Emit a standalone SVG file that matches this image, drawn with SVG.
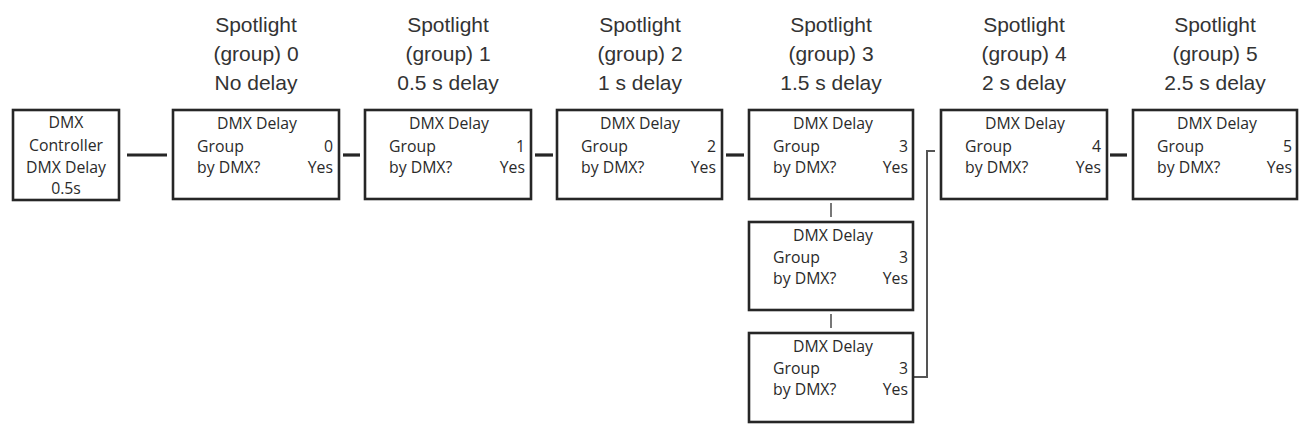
<svg xmlns="http://www.w3.org/2000/svg" width="1304" height="426" viewBox="0 0 1304 426">
<style>
.box{fill:#fff;stroke:#262626;stroke-width:2.6}
.t{font-family:"Open Sans","Noto Sans",sans-serif;font-size:15.8px;fill:#2a2a2a}
.c{text-anchor:middle}
.r{text-anchor:end}
.title{font-family:"Liberation Sans",Arial,sans-serif;font-size:21px;fill:#333;text-anchor:middle}
.thick{stroke:#262626;stroke-width:3.2;fill:none}
.thin{stroke:#555;stroke-width:1.6;fill:none}
</style>
<rect width="1304" height="426" fill="#fff"/>
<g id="titles">
<text class="title" x="256" y="32">Spotlight</text><text class="title" x="256" y="61">(group) 0</text><text class="title" x="256" y="90">No delay</text>
<text class="title" x="448" y="32">Spotlight</text><text class="title" x="448" y="61">(group) 1</text><text class="title" x="448" y="90">0.5 s delay</text>
<text class="title" x="640" y="32">Spotlight</text><text class="title" x="640" y="61">(group) 2</text><text class="title" x="640" y="90">1 s delay</text>
<text class="title" x="831" y="32">Spotlight</text><text class="title" x="831" y="61">(group) 3</text><text class="title" x="831" y="90">1.5 s delay</text>
<text class="title" x="1024" y="32">Spotlight</text><text class="title" x="1024" y="61">(group) 4</text><text class="title" x="1024" y="90">2 s delay</text>
<text class="title" x="1215" y="32">Spotlight</text><text class="title" x="1215" y="61">(group) 5</text><text class="title" x="1215" y="90">2.5 s delay</text>
</g>
<g id="connectors">
<line class="thick" x1="127" y1="155" x2="167" y2="155"/>
<line class="thick" x1="343" y1="155" x2="360" y2="155"/>
<line class="thick" x1="535" y1="155" x2="553" y2="155"/>
<line class="thick" x1="726" y1="155" x2="744" y2="155"/>
<line class="thick" x1="1110" y1="155" x2="1127" y2="155"/>
<line class="thin" x1="831" y1="203" x2="831" y2="217"/>
<line class="thin" x1="831" y1="314" x2="831" y2="328"/>
<polyline class="thin" points="914,377 927,377 927,151 935,151" style="stroke-width:2"/>
</g>
<g id="controller">
<rect class="box" x="13" y="110" width="106" height="90"/>
<text class="t c" x="66" y="128">DMX</text>
<text class="t c" x="66" y="151">Controller</text>
<text class="t c" x="66" y="173">DMX Delay</text>
<text class="t c" x="66" y="194">0.5s</text>
</g>
<g id="group0">
<rect class="box" x="173" y="110" width="166" height="89"/>
<text class="t c" x="257" y="129">DMX Delay</text>
<text class="t" x="197" y="152">Group</text><text class="t r" x="333" y="152">0</text>
<text class="t" x="197" y="173">by DMX?</text><text class="t r" x="333" y="173">Yes</text>
</g>
<g id="group1">
<rect class="box" x="365" y="110" width="166" height="89"/>
<text class="t c" x="449" y="129">DMX Delay</text>
<text class="t" x="389" y="152">Group</text><text class="t r" x="525" y="152">1</text>
<text class="t" x="389" y="173">by DMX?</text><text class="t r" x="525" y="173">Yes</text>
</g>
<g id="group2">
<rect class="box" x="557" y="110" width="165" height="89"/>
<text class="t c" x="640" y="129">DMX Delay</text>
<text class="t" x="581" y="152">Group</text><text class="t r" x="716" y="152">2</text>
<text class="t" x="581" y="173">by DMX?</text><text class="t r" x="716" y="173">Yes</text>
</g>
<g id="group3a">
<rect class="box" x="749" y="110" width="164" height="89"/>
<text class="t c" x="833" y="129">DMX Delay</text>
<text class="t" x="773" y="152">Group</text><text class="t r" x="908" y="152">3</text>
<text class="t" x="773" y="173">by DMX?</text><text class="t r" x="908" y="173">Yes</text>
</g>
<g id="group3b">
<rect class="box" x="749" y="222" width="164" height="88"/>
<text class="t c" x="833" y="241">DMX Delay</text>
<text class="t" x="773" y="263">Group</text><text class="t r" x="908" y="263">3</text>
<text class="t" x="773" y="284">by DMX?</text><text class="t r" x="908" y="284">Yes</text>
</g>
<g id="group3c">
<rect class="box" x="749" y="333" width="164" height="89"/>
<text class="t c" x="833" y="352">DMX Delay</text>
<text class="t" x="773" y="374">Group</text><text class="t r" x="908" y="374">3</text>
<text class="t" x="773" y="395">by DMX?</text><text class="t r" x="908" y="395">Yes</text>
</g>
<g id="group4">
<rect class="box" x="941" y="110" width="166" height="89"/>
<text class="t c" x="1025" y="129">DMX Delay</text>
<text class="t" x="965" y="152">Group</text><text class="t r" x="1101" y="152">4</text>
<text class="t" x="965" y="173">by DMX?</text><text class="t r" x="1101" y="173">Yes</text>
</g>
<g id="group5">
<rect class="box" x="1133" y="110" width="164" height="89"/>
<text class="t c" x="1217" y="129">DMX Delay</text>
<text class="t" x="1157" y="152">Group</text><text class="t r" x="1292" y="152">5</text>
<text class="t" x="1157" y="173">by DMX?</text><text class="t r" x="1292" y="173">Yes</text>
</g>
</svg>
